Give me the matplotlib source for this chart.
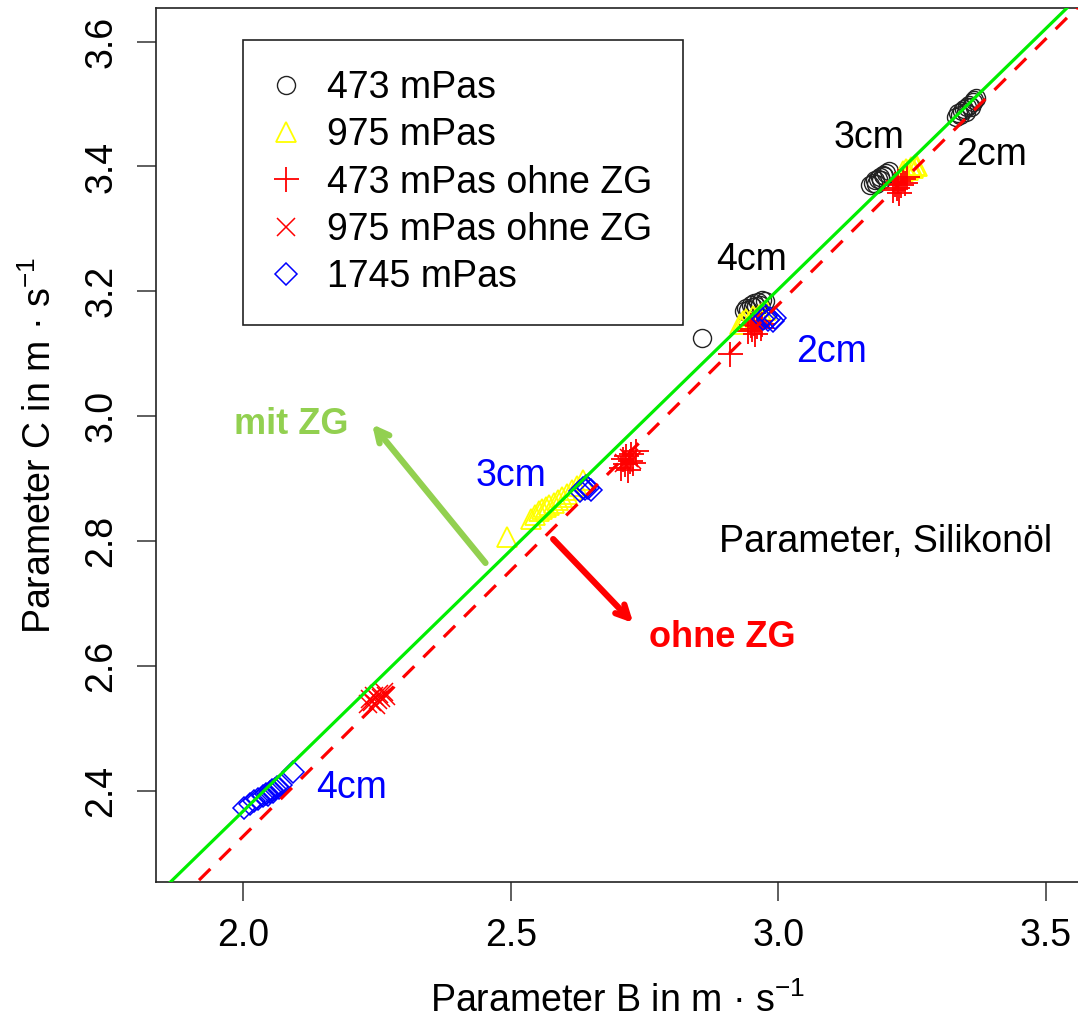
import matplotlib
matplotlib.use("Agg")
import matplotlib.pyplot as plt
import numpy as np

plt.rcParams['font.family'] = ['Liberation Sans', 'DejaVu Sans']
plt.rcParams['mathtext.fontset'] = 'custom'
plt.rcParams['mathtext.rm'] = 'Liberation Sans'
plt.rcParams['mathtext.it'] = 'Liberation Sans'

# --- data (Parameter B, Parameter C) ---
# 473 mPas (circles): 2cm, 3cm, 4cm clusters + one outlier
b_473 = [3.332, 3.336, 3.340, 3.343, 3.347, 3.350, 3.353, 3.356, 3.360, 3.363, 3.366, 3.369,
         3.172, 3.176, 3.180, 3.183, 3.186, 3.189, 3.192, 3.195, 3.198, 3.202, 3.206,
         2.936, 2.940, 2.944, 2.948, 2.952, 2.955, 2.958, 2.962, 2.966, 2.970, 2.975,
         2.857]
c_473 = [3.479, 3.485, 3.482, 3.489, 3.492, 3.488, 3.496, 3.499, 3.495, 3.503, 3.506, 3.509,
         3.370, 3.374, 3.378, 3.372, 3.380, 3.383, 3.379, 3.386, 3.384, 3.389, 3.392,
         3.168, 3.174, 3.170, 3.178, 3.175, 3.181, 3.177, 3.183, 3.179, 3.186, 3.184,
         3.125]

# 975 mPas (triangles)
b_975 = [3.232, 3.238, 3.243, 3.247, 3.251, 3.255, 3.259,
         2.928, 2.934, 2.940, 2.946, 2.952, 2.958, 2.964, 2.970, 2.977,
         2.538, 2.545, 2.552, 2.558, 2.565, 2.572, 2.580, 2.588, 2.596, 2.605, 2.614, 2.624, 2.634,
         2.493]
c_975 = [3.392, 3.396, 3.394, 3.399, 3.397, 3.402, 3.400,
         3.148, 3.152, 3.156, 3.152, 3.160, 3.158, 3.163, 3.166, 3.170,
         2.836, 2.842, 2.848, 2.851, 2.855, 2.858, 2.862, 2.866, 2.871, 2.876, 2.882, 2.889, 2.898,
         2.807]

# 473 mPas ohne ZG (plus)
b_473o = [3.214, 3.218, 3.221, 3.224, 3.226, 3.229, 3.232, 3.236, 3.240,
          2.944, 2.948, 2.951, 2.954, 2.957, 2.960, 2.963, 2.967, 2.970,
          2.705, 2.710, 2.713, 2.716, 2.719, 2.722, 2.725, 2.729, 2.734,
          2.910]
c_473o = [3.362, 3.372, 3.366, 3.376, 3.358, 3.370, 3.380, 3.374, 3.383,
          3.136, 3.146, 3.140, 3.150, 3.132, 3.144, 3.152, 3.141, 3.148,
          2.918, 2.932, 2.924, 2.936, 2.914, 2.928, 2.940, 2.926, 2.944,
          3.100]

# 975 mPas ohne ZG (x)
b_975o = [2.232, 2.237, 2.241, 2.245, 2.248, 2.251, 2.254, 2.258, 2.262, 2.266,
          2.712, 2.720, 2.727]
c_975o = [2.540, 2.548, 2.543, 2.552, 2.538, 2.546, 2.556, 2.549, 2.558, 2.553,
          2.926, 2.934, 2.930]

# 1745 mPas (diamonds)
b_1745 = [2.972, 2.977, 2.981, 2.985, 2.989, 2.993,
          2.630, 2.634, 2.638, 2.641, 2.645, 2.649,
          2.002, 2.012, 2.020, 2.028, 2.036, 2.042, 2.046, 2.050, 2.053, 2.056, 2.059, 2.062,
          2.066, 2.070, 2.093]
c_1745 = [3.156, 3.160, 3.154, 3.158, 3.153, 3.157,
          2.880, 2.886, 2.883, 2.889, 2.885, 2.882,
          2.373, 2.379, 2.384, 2.388, 2.393, 2.396, 2.394, 2.399, 2.402, 2.398, 2.404, 2.407,
          2.405, 2.410, 2.431]

# regression lines C = a + b*B
fit_mit = (0.6984, 0.8350)
fit_ohne = (0.6263, 0.8509)

x_ticks = [2.0, 2.5, 3.0, 3.5]
y_ticks = [2.4, 2.6, 2.8, 3.0, 3.2, 3.4, 3.6]

fig = plt.figure(figsize=(10.78, 10.21), dpi=100)
ax = fig.add_axes([0.1444, 0.1361, 0.8574, 0.856])

ax.plot(b_473, c_473, 'o', mfc='none', mec='#222222', mew=1.0, ms=13, label='473 mPas')
ax.plot(b_975, c_975, '^', mfc='none', mec='#FFFF00', mew=1.3, ms=14, label='975 mPas')
ax.plot(b_473o, c_473o, '+', color='#FF0000', mew=1.3, ms=18, label='473 mPas ohne ZG')
ax.plot(b_975o, c_975o, 'x', color='#FF0000', mew=1.1, ms=13, label='975 mPas ohne ZG')
ax.plot(b_1745, c_1745, 'D', mfc='none', mec='#0000FF', mew=1.1, ms=11, label='1745 mPas')

xl = (1.836, 3.5636)
yl = (2.2545, 3.6536)
xx = np.array([1.5, 4.0])
ax.plot(xx, fit_mit[0] + fit_mit[1] * xx, color='#00EE00', lw=2.3, zorder=5)
ax.plot(xx, fit_ohne[0] + fit_ohne[1] * xx, color='#FF0000', lw=2.3,
        dashes=(5, 4), zorder=4)

ax.set_xlim(*xl)
ax.set_ylim(*yl)
ax.set_xticks(x_ticks)
ax.set_yticks(y_ticks)
ax.set_xticklabels([f'{v:.1f}' for v in x_ticks], fontsize=27)
ax.set_yticklabels([f'{v:.1f}' for v in y_ticks], fontsize=27, rotation=90, va='center')
ax.tick_params(length=14, width=1.1, pad=12, color='#333333')
for s in ax.spines.values():
    s.set_linewidth(1.2)
    s.set_color('#222222')

ax.set_xlabel('Parameter B in m · s$^{-1}$', fontsize=27, labelpad=20)
ax.set_ylabel('Parameter C in m · s$^{-1}$', fontsize=27, labelpad=18)

# cluster labels
ax.text(3.169, 3.4455, '3cm', fontsize=27, ha='center', va='center')
ax.text(3.399, 3.418, '2cm', fontsize=27, ha='center', va='center')
ax.text(2.949, 3.250, '4cm', fontsize=27, ha='center', va='center')
ax.text(3.100, 3.103, '2cm', fontsize=27, color='#0000FF', ha='center', va='center')
ax.text(2.5006, 2.9044, '3cm', fontsize=27, color='#0000FF', ha='center', va='center')
ax.text(2.2018, 2.4048, '4cm', fontsize=27, color='#0000FF', ha='center', va='center')
ax.text(3.201, 2.7987, 'Parameter, Silikonöl', fontsize=27, ha='center', va='center')

# arrows
ax.annotate('', xy=(2.2373, 2.9908), xytext=(2.4558, 2.7619),
            arrowprops=dict(arrowstyle='->,head_length=0.9,head_width=0.45',
                            color='#92D050', lw=4.5))
ax.annotate('', xy=(2.7323, 2.666), xytext=(2.5754, 2.8067),
            arrowprops=dict(arrowstyle='->,head_length=0.9,head_width=0.45',
                            color='#FF0000', lw=4.5))
ax.text(2.0897, 2.9876, 'mit ZG', fontsize=26, fontweight='bold', color='#92D050',
        ha='center', va='center')
ax.text(2.895, 2.6466, 'ohne ZG', fontsize=26, fontweight='bold', color='#FF0000',
        ha='center', va='center')

leg = ax.legend(loc='upper left', bbox_to_anchor=(0.0944, 0.9634), borderaxespad=0,
                fontsize=27, frameon=True, fancybox=False, edgecolor='#222222',
                framealpha=1, borderpad=0.8, labelspacing=0.3, handlelength=0.7,
                handletextpad=0.75)
leg.get_frame().set_linewidth(1.2)

fig.savefig('out.png', dpi=100)
